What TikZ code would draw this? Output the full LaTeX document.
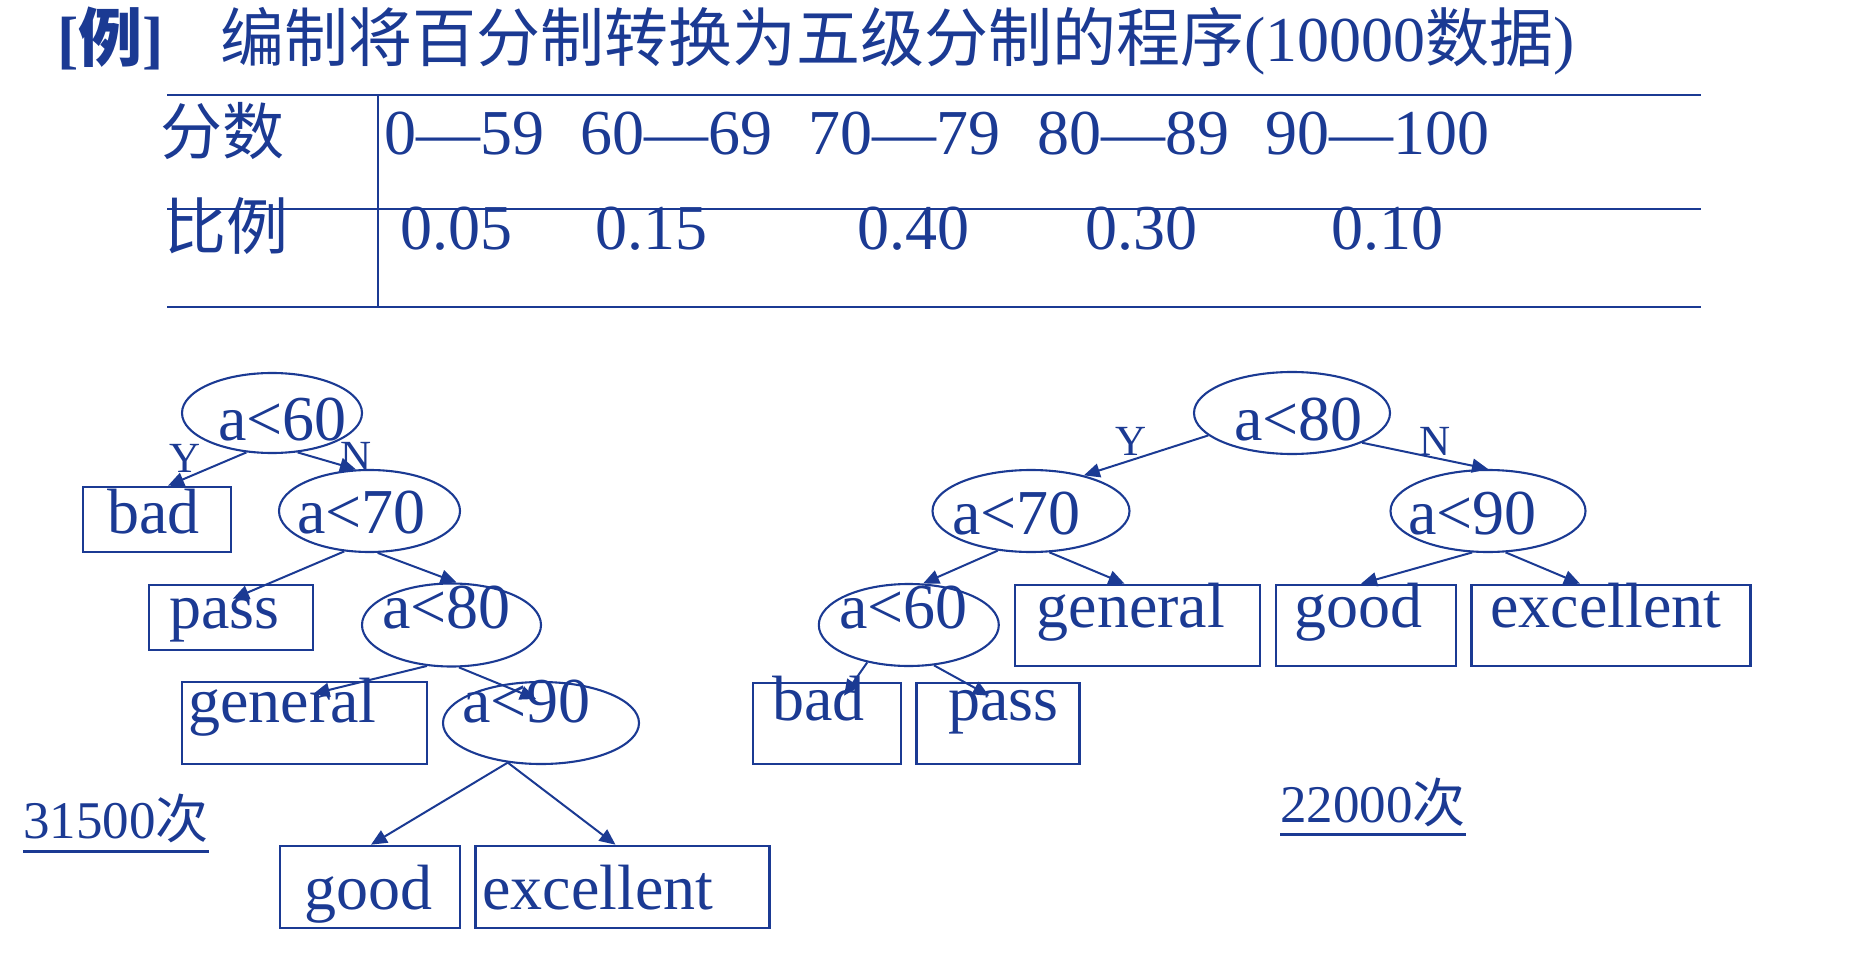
\documentclass[tikz,border=0pt]{standalone}
\usepackage{fontspec}
\setmainfont{Liberation Serif}
\newfontfamily\cjk{Noto Sans CJK SC}
\usetikzlibrary{shapes.geometric, arrows.meta, positioning}
\definecolor{ink}{HTML}{1B3A93}

\begin{document}
\begin{tikzpicture}[
        x=1pt, y=-1pt,
        color=ink,
        txt/.style={anchor=base west, inner sep=0pt, font=\fontsize{64}{72}\selectfont},
        hanzi/.style={anchor=base west, inner sep=0pt, font=\fontsize{62}{70}\selectfont\cjk},
        yn/.style={anchor=base, inner sep=0pt, font=\fontsize{43}{48}\selectfont},
        cnt/.style={anchor=base west, inner sep=0pt, font=\fontsize{53}{60}\selectfont},
        test/.style={ellipse, draw, line width=2.1pt, inner sep=0pt},
        leaf/.style={rectangle, draw, line width=2.6pt, inner sep=0pt},
        rule/.style={line width=2.8pt},
        arrow/.style={line width=2pt, -{Triangle[length=16pt, width=14pt]}}
    ]

        \useasboundingbox (0,0) rectangle (1866,957);

        \node [txt, font=\fontsize{64}{72}\selectfont\bfseries] (tag) at (57,62) {[{\cjk 例}]};
        \node [txt] (title) at (220,62) {{\cjk 编制将百分制转换为五级分制的程序}(10000{\cjk 数据})};

        \draw [rule] (167,95) -- (1701,95);
        \draw [rule] (167,209) -- (1701,209);
        \draw [rule] (167,307) -- (1701,307);
        \draw [rule] (378,95) -- (378,307);

        \node [hanzi] (score) at (160,155) {分数};
        \node [txt] (s1) at (384,155) {0—59};
        \node [txt] (s2) at (580,155) {60—69};
        \node [txt] (s3) at (808,155) {70—79};
        \node [txt] (s4) at (1037,155) {80—89};
        \node [txt] (s5) at (1265,155) {90—100};
        \node [hanzi] (ratio) at (164,250) {比例};
        \node [txt] (p1) at (400,250) {0.05};
        \node [txt] (p2) at (595,250) {0.15};
        \node [txt] (p3) at (857,250) {0.40};
        \node [txt] (p4) at (1085,250) {0.30};
        \node [txt] (p5) at (1331,250) {0.10};

        \node [test, minimum width=180pt, minimum height=80pt] (L60) at (272,413) {};
        \node [txt] (L60t) at (218,440) {a<60};
        \node [test, minimum width=181pt, minimum height=82pt] (L70) at (369.5,511) {};
        \node [txt] (L70t) at (297,533) {a<70};
        \node [test, minimum width=179pt, minimum height=83pt] (L80) at (451.5,625) {};
        \node [txt] (L80t) at (382,628) {a<80};
        \node [test, minimum width=196pt, minimum height=82pt] (L90) at (541,723) {};
        \node [txt] (L90t) at (462,722) {a<90};
        \node [leaf, minimum width=148pt, minimum height=65pt] (Lbad) at (157,519.5) {};
        \node [txt] (Lbadt) at (107,533) {bad};
        \node [leaf, minimum width=164pt, minimum height=65pt] (Lpass) at (231,617.5) {};
        \node [txt] (Lpasst) at (169,628) {pass};
        \node [leaf, minimum width=245pt, minimum height=82pt] (Lgen) at (304.5,723) {};
        \node [txt] (Lgent) at (188,722) {general};
        \node [leaf, minimum width=180pt, minimum height=82pt] (Lgood) at (370,887) {};
        \node [txt] (Lgoodt) at (304,909) {good};
        \node [leaf, minimum width=294pt, minimum height=82pt] (Lexc) at (622.5,887) {};
        \node [txt] (Lexct) at (482,909) {excellent};
        \node [yn] (LY) at (185,472) {Y};
        \node [yn] (LN) at (356,470) {N};
        \node [cnt] (Lcount) at (23,838) {31500{\cjk 次}};
        \draw [line width=3pt] ([yshift=-13pt]Lcount.base west) -- ([yshift=-13pt]Lcount.base east);

        \draw [arrow] (L60.237) -- ([xshift=11pt]Lbad.north);
        \draw [arrow] (L60.303) -- (L70.108);
        \draw [arrow] (L70.238) -- ([xshift=2pt, yshift=-15pt]Lpass.north);
        \draw [arrow] (L70.281) -- ([xshift=5pt]L80.north);
        \draw [arrow] (L80.239) -- ([xshift=9pt, yshift=-13pt]Lgen.north);
        \draw [arrow] (L80.280) -- ([xshift=-5pt, yshift=-18pt]L90.north);
        \draw [arrow] (L90.230) -- ([xshift=1pt]Lgood.north);
        \draw [arrow] (L90.230) -- ([xshift=-7pt]Lexc.north);

        \node [test, minimum width=196pt, minimum height=82pt] (R80) at (1292,413) {};
        \node [txt] (R80t) at (1234,440) {a<80};
        \node [test, minimum width=197pt, minimum height=82pt] (R70) at (1031,511) {};
        \node [txt] (R70t) at (952,534) {a<70};
        \node [test, minimum width=195pt, minimum height=82pt] (R90) at (1488,511) {};
        \node [txt] (R90t) at (1408,534) {a<90};
        \node [test, minimum width=180pt, minimum height=82pt] (R60) at (908.8,625) {};
        \node [txt] (R60t) at (839,628) {a<60};
        \node [leaf, minimum width=245pt, minimum height=81pt] (Rgen) at (1137.5,625.5) {};
        \node [txt] (Rgent) at (1036.6,627) {general};
        \node [leaf, minimum width=180pt, minimum height=81pt] (Rgood) at (1366,625.5) {};
        \node [txt] (Rgoodt) at (1294,627) {good};
        \node [leaf, minimum width=279pt, minimum height=81pt] (Rexc) at (1611,625.5) {};
        \node [txt] (Rexct) at (1490,627) {excellent};
        \node [leaf, minimum width=148pt, minimum height=81pt] (Rbad) at (827,723.5) {};
        \node [txt] (Rbadt) at (772,720) {bad};
        \node [leaf, minimum width=163pt, minimum height=81pt] (Rpass) at (998,723.5) {};
        \node [txt] (Rpasst) at (948,720) {pass};
        \node [yn] (RY) at (1131,455) {Y};
        \node [yn] (RN) at (1435,455) {N};
        \node [cnt] (Rcount) at (1280,822) {22000{\cjk 次}};
        \draw [line width=3pt] ([yshift=-12pt]Rcount.base west) -- ([yshift=-12pt]Rcount.base east);

        \draw [arrow] (R80.195) -- (R70.34);
        \draw [arrow] (R80.337) -- (R90.north);
        \draw [arrow] (R70.230) -- (R60.71);
        \draw [arrow] (R70.294) -- ([xshift=-13pt]Rgen.north);
        \draw [arrow] (R90.249) -- ([xshift=-5pt]Rgood.north);
        \draw [arrow] (R90.293) -- ([xshift=-31pt]Rexc.north);
        \draw [arrow] (R60.222) -- ([xshift=17pt, yshift=-14pt]Rbad.north);
        \draw [arrow] (R60.302) -- ([xshift=-9pt, yshift=-14pt]Rpass.north);
    \end{tikzpicture}
\end{document}
